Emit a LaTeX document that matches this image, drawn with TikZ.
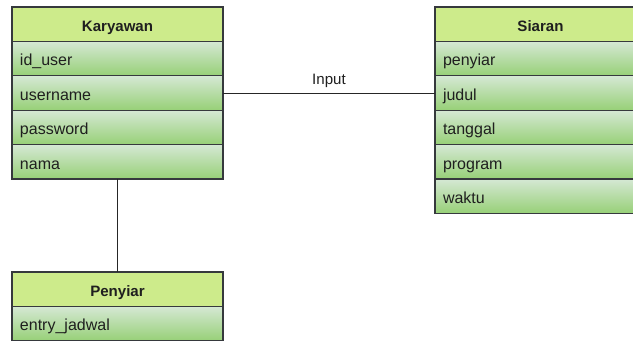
\documentclass[tikz,border=0pt]{standalone}
\usepackage{fontspec}
\setmainfont{Liberation Sans}
\usetikzlibrary{positioning}

\definecolor{headfill}{HTML}{CDEB8B}
\definecolor{rowtop}{HTML}{D5E8D4}
\definecolor{rowbot}{HTML}{97D077}
\definecolor{edgec}{HTML}{36393D}
\definecolor{textc}{HTML}{1F1F1F}

\tikzset{
  tabhead/.style={draw=edgec, line width=0.9pt, fill=headfill, anchor=north west,
    minimum width=158.25pt, minimum height=25.8pt, text height=11pt, text depth=0pt,
    inner sep=0pt, outer sep=0pt, text=textc, font=\bfseries\fontsize{11.3}{13}\selectfont},
  tabrow/.style={draw=edgec, line width=0.9pt, top color=rowtop, bottom color=rowbot,
    minimum height=25.8pt, text width=146.25pt, text height=11pt, text depth=0pt,
    inner xsep=6pt, inner ysep=0pt, outer sep=0pt, align=left, text=textc,
    font=\fontsize{12}{14}\selectfont},
  relline/.style={draw=black!85, line width=0.75pt}
}

\begin{document}
\begin{tikzpicture}[x=0.75pt,y=-0.75pt]
\useasboundingbox (0,0) rectangle (633,340);
\clip (0,0) rectangle (633,340);

% Karyawan
\node[tabhead] (k0) at (12,7) {Karyawan};
\foreach \f [count=\i, remember=\i as \j (initially 0)] in {id\_user,username,password,nama}{
  \node[tabrow, below=0pt of k\j] (k\i) {\f};
}

% Siaran
\node[tabhead] (s0) at (435,7) {Siaran};
\foreach \f [count=\i, remember=\i as \j (initially 0)] in {penyiar,judul,tanggal,program,waktu}{
  \node[tabrow, below=0pt of s\j] (s\i) {\f};
}

% Penyiar
\node[tabhead] (p0) at (12,272) {Penyiar};
\node[tabrow, below=0pt of p0] (p1) {entry\_jadwal};

% relations
\draw[relline] (k2.east) -- node[above, inner sep=4pt, text=textc, font=\fontsize{11.3}{13}\selectfont] {Input} (s2.west);
\draw[relline] (k4.south) -- (p0.north);
\end{tikzpicture}
\end{document}
